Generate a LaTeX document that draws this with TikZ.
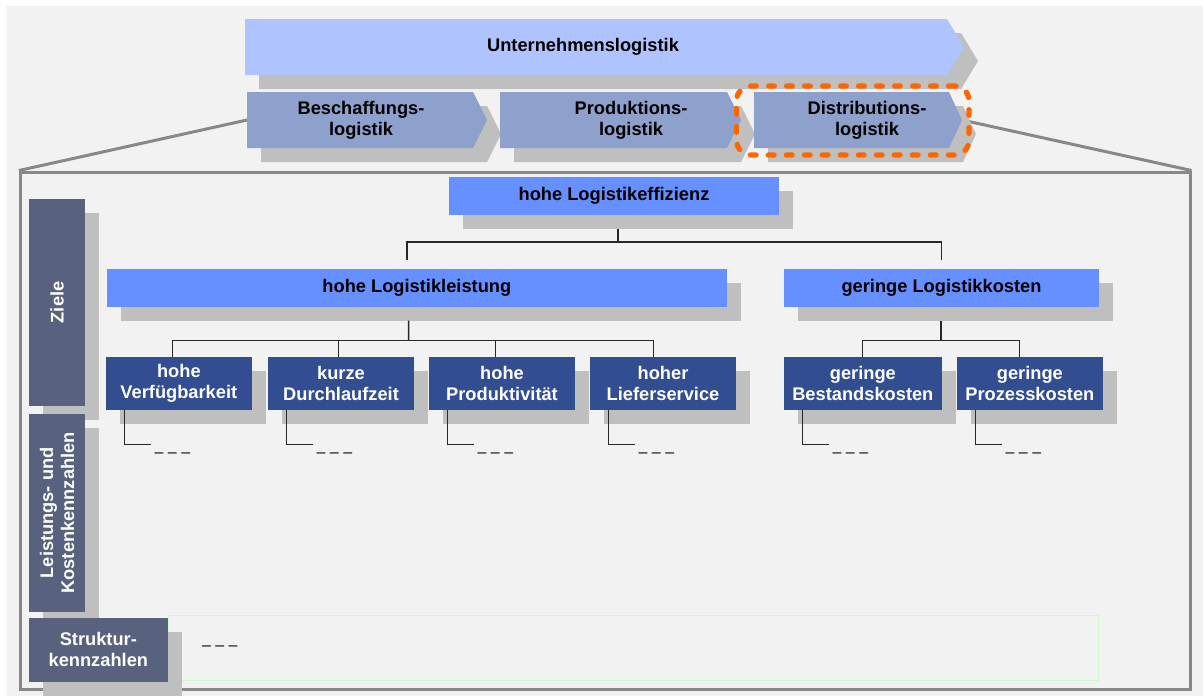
\documentclass[tikz,border=0pt]{standalone}
\usepackage{fontspec}
\setmainfont{Liberation Sans}
\usetikzlibrary{shadows}
% one pixel of the drawing grid
\def\PX{0.75pt}
\definecolor{bgrey}{RGB}{242,242,242}
\definecolor{shgrey}{RGB}{191,191,191}
\definecolor{lightblue}{RGB}{175,196,255}
\definecolor{midarrow}{RGB}{142,160,204}
\definecolor{midblue}{RGB}{102,143,255}
\definecolor{darkblue}{RGB}{50,78,144}
\definecolor{slate}{RGB}{88,97,126}
\definecolor{focusorange}{RGB}{255,102,0}
\definecolor{frameg}{RGB}{136,136,136}
\definecolor{feldgreen}{RGB}{204,250,204}
\definecolor{lineg}{RGB}{40,40,40}
% chevron-shaped process arrow drawn over an invisible hull node
% #1 hull node, #2 tip depth (px), #3 offset (px), #4 fill colour
\newcommand\chevron[4]{%
  \fill[#4] ([xshift=#3*\PX,yshift=-#3*\PX]#1.north west)
    -- ([xshift=#3*\PX,yshift=-#3*\PX]#1.north east)
    -- ([xshift=#2*\PX+#3*\PX,yshift=-#3*\PX]#1.east)
    -- ([xshift=#3*\PX,yshift=-#3*\PX]#1.south east)
    -- ([xshift=#3*\PX,yshift=-#3*\PX]#1.south west) -- cycle;}
\begin{document}
\begin{tikzpicture}[x=0.75pt,y=-0.75pt,
  txt/.style={inner sep=0pt, outer sep=0pt, align=center,
    font=\bfseries\fontsize{13.7}{15.75}\selectfont},
  sh/.style={general shadow={fill=shgrey, shadow xshift=10.5pt, shadow yshift=-10.5pt}},
  hull/.style={inner sep=0pt, outer sep=0pt, minimum height=56*\PX},
  topbox/.style={txt, sh, fill=midblue, minimum height=37.7*\PX},
  leaf/.style={txt, sh, fill=darkblue, text=white, minimum height=52.7*\PX},
  side/.style={sh, fill=slate, inner sep=0pt, outer sep=0pt},
  conn/.style={draw=lineg, line width=1.1pt},
  framel/.style={draw=frameg, line width=2.25pt},
  dashtxt/.style={inner sep=0pt, outer sep=0pt, text=black, font=\fontsize{12}{14}\selectfont}
]
\useasboundingbox (0,0) rectangle (1203,696);
\fill[white] (0,0) rectangle (1203,696);
\fill[bgrey] (7,6) rectangle (1203,696);

% detail frame
\node[framel, inner sep=0pt, minimum width=1169.5*\PX, minimum height=517.5*\PX] (rahmen) at (605.25,430.75) {};

% hulls of the process arrows
\node[hull, minimum width=702*\PX] (unt) at (596,47) {};
\node[hull, minimum width=226*\PX] (besch) at (360,120) {};
\node[hull, minimum width=227*\PX] (prod) at (613.5,120) {};
\node[hull, minimum width=195*\PX] (dist) at (851.5,120) {};

% zoom lines from the frame up to the arrow row
\draw[framel] (rahmen.north west) -- (besch.west);
\draw[framel] (rahmen.north east) -- ([xshift=13*\PX]dist.east);

% arrow shadows, then arrow bodies
\chevron{unt}{17}{14}{shgrey}
\chevron{besch}{14}{14}{shgrey}
\chevron{prod}{14}{14}{shgrey}
\chevron{dist}{13}{14}{shgrey}
\chevron{unt}{17}{0}{lightblue}
\chevron{besch}{14}{0}{midarrow}
\chevron{prod}{14}{0}{midarrow}
\chevron{dist}{13}{0}{midarrow}

\node[txt] (untT) at (583,47) {Unternehmenslogistik};
\node[txt] (beschT) at (361,120) {Beschaffungs-\\logistik};
\node[txt] (prodT) at (631,120) {Produktions-\\logistik};
\node[txt] (distT) at (867,120) {Distributions-\\logistik};

% highlighted distribution logistics
\node[draw=focusorange, line width=4pt, rounded corners=11pt, line cap=round,
  dash pattern=on 4.3pt off 9.2pt, inner sep=0pt,
  minimum width=232.5*\PX, minimum height=69*\PX] (fokus) at (852.75,120.5) {};

% row labels on the left
\node[side, minimum width=56*\PX, minimum height=206.7*\PX] (ziele) at (57,302.35) {};
\node[txt, text=white, rotate=90] (zieleT) at (ziele.center) {Ziele};
\node[side, minimum width=56*\PX, minimum height=197.7*\PX] (kennz) at (57,512.85) {};
\node[txt, text=white, rotate=90] (kennzT) at (kennz.center) {Leistungs- und\\Kostenkennzahlen};
\node[draw=feldgreen, line width=0.75pt, inner sep=0pt,
  minimum width=930*\PX, minimum height=65.4*\PX] (feld) at (633,648) {};
\node[side, txt, text=white, minimum width=138.7*\PX, minimum height=63.7*\PX]
  (struktur) at (98.35,649.85) {Struktur-\\kennzahlen};
\node[dashtxt, anchor=base west] (feldD) at ([xshift=34.5*\PX,yshift=-2.1*\PX]feld.west)
  {\textendash{} \textendash{} \textendash};

% goal hierarchy
\node[topbox, minimum width=330*\PX] (eff) at (614,195.85) {hohe Logistikeffizienz};
\node[topbox, minimum width=619.7*\PX] (leist) at (416.85,287.85) {hohe Logistikleistung};
\node[topbox, minimum width=315*\PX] (kost) at (941.5,287.85) {geringe Logistikkosten};

\node[leaf, minimum width=145.7*\PX] (verf) at (178.85,383.35) {hohe\\Verfügbarkeit};
\node[leaf, minimum width=146*\PX] (kurz) at (341,383.35) {kurze\\Durchlaufzeit};
\node[leaf, minimum width=146*\PX] (produ) at (502,383.35) {hohe\\Produktivität};
\node[leaf, minimum width=146*\PX] (lief) at (663,383.35) {hoher\\Lieferservice};
\node[leaf, minimum width=157.7*\PX] (bestand) at (862.85,383.35) {geringe\\Bestandskosten};
\node[leaf, minimum width=145.7*\PX] (prozess) at (1029.85,383.35) {geringe\\Prozesskosten};

% connectors: efficiency -> performance / costs
\coordinate (bus1) at (618,242);
\draw[conn] ([xshift=4*\PX,yshift=-14*\PX]eff.south) -- (bus1);
\draw[conn] ([xshift=-10*\PX,yshift=9*\PX]leist.north) |- (bus1);
\draw[conn] ([yshift=9*\PX]kost.north) |- (bus1);

% connectors: performance -> its four goals
\coordinate (bus2) at (408.7,340.3);
\draw[conn] ([xshift=-8.15*\PX,yshift=-14*\PX]leist.south) -- (bus2);
\draw[conn] ([xshift=-6.2*\PX]verf.north) |- (bus2);
\draw[conn] ([xshift=-2.3*\PX]kurz.north) |- (bus2);
\draw[conn] ([xshift=-6.3*\PX]produ.north) |- (bus2);
\draw[conn] ([xshift=-9.7*\PX]lief.north) |- (bus2);

% connectors: costs -> its two goals
\coordinate (bus3) at (941,340.3);
\draw[conn] ([xshift=-0.5*\PX,yshift=-14*\PX]kost.south) -- (bus3);
\draw[conn] ([xshift=-0.5*\PX]bestand.north) |- (bus3);
\draw[conn] ([xshift=-10.5*\PX]prozess.north) |- (bus3);

% key figure stubs below each goal
\foreach \g in {verf,kurz,produ,lief,bestand,prozess}{
  \draw[conn] ([xshift=18.3*\PX]\g.south west) |- ++(27,34.6) coordinate (\g E);
  \node[dashtxt, anchor=base west] (\g D) at ([xshift=3.3*\PX,yshift=-13*\PX]\g E)
    {\textendash{} \textendash{} \textendash};
}
\end{tikzpicture}
\end{document}
